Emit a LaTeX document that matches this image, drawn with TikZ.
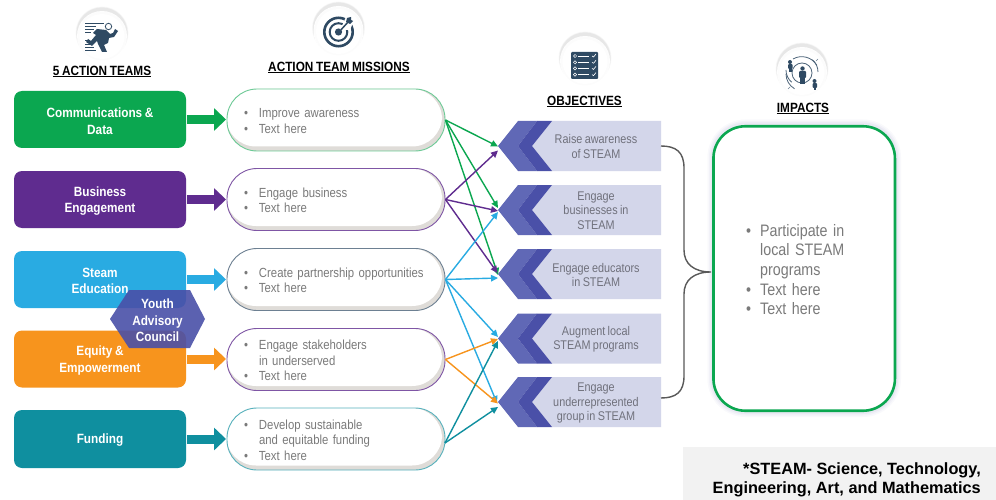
\documentclass[tikz,border=0pt]{standalone}
\usepackage{fontspec}
\setmainfont{Liberation Sans}
\newfontfamily\narrowfont[FakeStretch=0.86,WordSpace=0.8]{Liberation Sans}
\newfontfamily\headfont[FakeStretch=0.88,WordSpace=0.8,BoldFont={Liberation Sans Bold}]{Liberation Sans}
\usetikzlibrary{arrows.meta,calc}
\definecolor{cgreen}{HTML}{0BA750}
\definecolor{cpurple}{HTML}{5F2C8F}
\definecolor{cblue}{HTML}{29ABE2}
\definecolor{corange}{HTML}{F7941D}
\definecolor{cteal}{HTML}{0F8F9F}
\definecolor{ink}{HTML}{2F4A63}
\definecolor{grayt}{HTML}{7A7A7A}
\definecolor{objt}{HTML}{70717C}
\definecolor{objbg}{HTML}{D3D6EA}
\definecolor{chevlight}{HTML}{6068B6}
\definecolor{chevdark}{HTML}{4A50A8}
\definecolor{pillshade}{HTML}{DFDCD8}
\tikzset{
  teambox/.style={rounded corners=8pt,minimum width=172pt,inner sep=0pt,text=white,align=center,
    font=\headfont\bfseries\fontsize{13.4}{16.5}\selectfont},
  mission/.style={draw=#1,line width=0.9pt,fill=white,rounded corners=30pt,minimum width=218pt,minimum height=62pt,
    text width=186pt,inner sep=0pt,align=left,text=grayt,font=\narrowfont\fontsize{13.2}{15.5}\selectfont,
    path picture={
      \fill[pillshade] (path picture bounding box.south west) rectangle (path picture bounding box.north east);
      \fill[white,rounded corners=30pt] ($(path picture bounding box.south west)+(-1pt,4.5pt)$) rectangle ($(path picture bounding box.north east)+(-3pt,0pt)$);
    }},
  fat/.style={line width=9pt,draw=#1,-{Triangle[length=12pt,width=22pt,fill=#1]},shorten >=0.5pt,shorten <=1pt},
  thin/.style={line width=1.4pt,draw=#1,-{Triangle[length=7pt,width=6.5pt,fill=#1]}},
  objtext/.style={text=objt,align=center,inner sep=0pt,font=\narrowfont\fontsize{12.6}{14.3}\selectfont},
  heading/.style={text=black,inner sep=0pt,font=\headfont\bfseries\fontsize{13.4}{15}\selectfont},
  tipnode/.style={inner sep=0pt,minimum size=0pt},
}
\newcommand{\bul}[1]{\makebox[16pt][l]{\hspace{1pt}•}#1}
\newcommand{\cont}[1]{\hspace*{16pt}#1}
\newcommand{\dropped}[2]{\raisebox{-#1}[\height][\depth]{#2}}
\newcommand{\teamtext}[1]{\dropped{1.5pt}{\parbox{172pt}{\centering #1}}}
\newcommand{\misstext}[1]{\dropped{1pt}{\parbox{186pt}{\raggedright #1}}}
\newcommand{\objband}[2]{%
  \fill[objbg] (552,#1) -- (661,#1) -- (661,#1+50) -- (552,#1+50) -- (532,#1+25) -- cycle;
  \fill[chevlight] (498,#1+25) -- (518,#1) -- (537,#1) -- (518,#1+25) -- (537,#1+50) -- (518,#1+50) -- cycle;
  \fill[chevdark] (537,#1) -- (552,#1) -- (532,#1+25) -- (552,#1+50) -- (537,#1+50) -- (518,#1+25) -- cycle;
  \node[tipnode] (tip#2) at (498,#1+25) {};
}
\newcommand{\iconback}[2]{%
  \foreach \r/\o in {26.5/0.025,26/0.03,25.5/0.04}{\fill[black,opacity=\o] (#1,#2-2) circle (\r);}
  \fill[white] (#1,#2+1) circle (25);
  \fill[black,opacity=0.012] (#1,#2+1) circle (24.5);
  \fill[white] (#1,#2+1.5) circle (22.5);
}
\begin{document}
\begin{tikzpicture}[x=1pt,y=-1pt]
\useasboundingbox (0,0) rectangle (996,500);
\fill[white] (0,0) rectangle (996,500);

% ---- icons
\iconback{102}{35}
\iconback{338.5}{30}
\iconback{585}{60}
\iconback{802}{71}
% runner
\begin{scope}
 \draw[ink,line width=1pt] (85,24)--(104,24) (85,27)--(96,27) (85,30)--(94,30) (85,33)--(91,33) (85,41)--(90,41) (85,45)--(92,45) (85,48)--(94,48) (85,51)--(96,51);
 \draw[ink,line width=0.8pt] (108.5,26.5) circle (3.2);
 \fill[ink] (97,29) -- (106,30) -- (110,34) -- (113,33) -- (115,29) -- (118,31) -- (114,37) -- (109,38) -- (108,43) -- (104,45) -- (107,52) -- (102,52) -- (98,44) -- (97,41) -- (92,46) -- (86,42) -- (88,39) -- (91,41) -- (96,35) -- (93,33) -- cycle;
\end{scope}
% target
\begin{scope}
 \draw[ink,line width=2.6pt] (338.5,32) circle (14.2);
 \draw[ink,line width=2pt] (338.5,32) circle (8.8);
 \fill[ink] (338.5,32) circle (3.6);
 \fill[white] (340,30) -- (346,17) -- (354,20) -- (350,30) -- cycle;
 \draw[ink,line width=1.5pt] (339,32) -- (349,21);
 \fill[ink] (346,22) -- (347,18) -- (351,17) -- (351,20) -- (353,21) -- (350,24) -- cycle;
\end{scope}
% checklist
\begin{scope}
 \fill[ink,rounded corners=1pt] (571,52) rectangle (598,79);
 \foreach \yy in {56,62.3,68.4,74.6}{
   \draw[white,line width=0.5pt] (575,\yy) circle (1.6);
   \draw[white,line width=0.6pt] (578,\yy) -- (589,\yy);
   \draw[white,line width=0.6pt] (592,\yy) -- (593.5,\yy+1) -- (596,\yy-2);
 }
\end{scope}
% impacts
\begin{scope}
 \draw[ink!85,line width=0.8pt] (802,73) circle (10);
 \draw[ink!85,line width=0.8pt] (793,59) arc[start angle=-120,end angle=-30,radius=17.5] ;
 \draw[ink!85,line width=0.8pt] (786,70) arc[start angle=180,end angle=130,radius=16];
 \draw[ink!85,line width=0.8pt] (786,74) arc[start angle=-180,end angle=-240,radius=17] ;
 \draw[ink!85,line width=0.8pt] (818,72) arc[start angle=0,end angle=-50,radius=16];
 \fill[ink] (802.5,68.5) circle (2.2);
 \fill[ink,rounded corners=1pt] (799,71) rectangle (806,78);
 \fill[ink] (800,78) rectangle (805,84);
 \fill[ink] (790,62) circle (2);
 \fill[ink,rounded corners=1pt] (788,64) rectangle (792.5,69);
 \fill[ink] (789,69) rectangle (791.5,72);
 \fill[ink] (814.5,81) circle (2);
 \fill[ink,rounded corners=1pt] (812.5,83) rectangle (817,88);
 \fill[ink] (813.5,88) rectangle (816,90);
 \draw[ink!70,line width=0.6pt] (816,61) -- (818,59) (788,89) -- (790,87);
\end{scope}

% ---- headings
\node[heading] (h1) at (102,71.5) {\underline{5 ACTION TEAMS}};
\node[heading] (h2) at (339,67.5) {\underline{ACTION TEAM MISSIONS}};
\node[heading] (h3) at (584.5,101.5) {\underline{OBJECTIVES}};
\node[heading] (h4) at (803,108.5) {\underline{IMPACTS}};

% ---- teams
\node[teambox,fill=cgreen,minimum height=57pt] (t1) at (100,119.5) {\teamtext{Communications \&\\Data}};
\node[teambox,fill=cpurple,minimum height=57pt] (t2) at (100,199.5) {\teamtext{Business\\Engagement}};
\node[teambox,fill=cblue,minimum height=57pt] (t3) at (100,279.5) {\teamtext{Steam\\Education}};
\node[teambox,fill=corange,minimum height=57pt] (t4) at (100,359) {\teamtext{Equity \&\\Empowerment}};
\node[teambox,fill=cteal,minimum height=58pt] (t5) at (100,439) {\teamtext{Funding}};

% ---- missions
\node[mission=cgreen!60] (m1) at (336,120) {\misstext{\bul{Improve awareness}\\\bul{Text here}}};
\node[mission=cpurple!80] (m2) at (336,199.5) {\misstext{\bul{Engage business}\\\bul{Text here}}};
\node[mission=ink!70] (m3) at (336,279.5) {\misstext{\bul{Create partnership opportunities}\\\bul{Text here}}};
\node[mission=cpurple!80] (m4) at (336,359.5) {\misstext{\bul{Engage stakeholders}\\\cont{in underserved}\\\bul{Text here}}};
\node[mission=cteal!70] (m5) at (336,439) {\misstext{\bul{Develop sustainable}\\\cont{and equitable funding}\\\bul{Text here}}};

% ---- fat arrows
\foreach \i/\c in {1/cgreen,2/cpurple,3/cblue,4/corange,5/cteal}{
  \draw[fat=\c] (t\i.east) -- (t\i.east -| m\i.west);
}

% ---- hexagon
\fill[chevdark,opacity=0.9] (110,319) -- (129,290) -- (190,290) -- (205,319) -- (190,348) -- (129,348) -- cycle;
\node[text=white,align=center,inner sep=0pt,font=\headfont\bfseries\fontsize{13.4}{16.7}\selectfont] (hex) at (157.5,320.5) {Youth\\Advisory\\Council};

% ---- objectives
\objband{121}{1}
\objband{185}{2}
\objband{249}{3}
\objband{313.5}{4}
\objband{377}{5}
\node[objtext] (o1) at (596,146.5) {Raise awareness\\of STEAM};
\node[objtext] (o2) at (596,210.5) {Engage\\businesses in\\STEAM};
\node[objtext] (o3) at (596,275) {Engage educators\\in STEAM};
\node[objtext] (o4) at (596,339) {Augment local\\STEAM programs};
\node[objtext] (o5) at (596,403) {Engage\\underrepresented\\group in STEAM};

% ---- connector end points
\coordinate (e1g) at (498,146.5);
\coordinate (e1p) at (498,150.5);
\coordinate (e2g) at (498,208);
\coordinate (e2p) at (498,211);
\coordinate (e2b) at (498,212);
\coordinate (e3g) at (498,275);
\coordinate (e3p) at (497.5,273);
\coordinate (e3b) at (498,278);
\coordinate (e4b) at (498,337);
\coordinate (e4o) at (498,339);
\coordinate (e4t) at (498,341);
\coordinate (e5b) at (497,403);
\coordinate (e5o) at (498,403.5);
\coordinate (e5t) at (498,407);
\coordinate (s5) at (445,443);
\coordinate (b1) at (661,146);

\foreach \e in {e1g,e2g,e3g}{\draw[thin=cgreen] (m1.east) -- (\e);}
\foreach \e in {e3p,e1p,e2p}{\draw[thin=cpurple] (m2.east) -- (\e);}
\foreach \e in {e2b,e3b,e4b,e5b}{\draw[thin=cblue] (m3.east) -- (\e);}
\foreach \e in {e4o,e5o}{\draw[thin=corange] (m4.east) -- (\e);}
\foreach \e in {e4t,e5t}{\draw[thin=cteal] (s5) -- (\e);}

% ---- impact box
\foreach \w/\o in {12/0.03,9/0.04,6/0.05}{
  \draw[chevdark,opacity=\o,line width=\w pt,rounded corners=32pt] (713.5,125.5) rectangle (895,411);
}
\node[draw=cgreen,line width=2.6pt,fill=white,rounded corners=32pt,minimum width=181.5pt,minimum height=284.5pt,inner sep=0pt,
  text width=136pt,align=left,text=grayt,font=\narrowfont\fontsize{16.6}{19.6}\selectfont] (imp) at (804.2,268.5)
  {\dropped{1pt}{\parbox{136pt}{\raggedright\hspace*{10pt}\makebox[14pt][l]{•}Participate in\\\hspace*{24pt}local STEAM\\\hspace*{24pt}programs\\\hspace*{10pt}\makebox[14pt][l]{•}Text here\\\hspace*{10pt}\makebox[14pt][l]{•}Text here}}};

% ---- brace
\draw[black!65,line width=1.4pt] (b1) .. controls (676,146) and (684,152) .. (684,168)
  -- (684,250) .. controls (684,264) and (694,272) .. (711,272)
  .. controls (694,272) and (684,280) .. (684,294) -- (684,376) .. controls (684,392) and (676,398) .. (661,398);

% ---- note
\fill[black!5] (683,447) rectangle (996,500);
\node[text=black,align=right,inner sep=0pt,anchor=east,font=\bfseries\fontsize{16.3}{19}\selectfont] (note) at (981,479.5)
  {*STEAM- Science, Technology,\\Engineering, Art, and Mathematics};
\end{tikzpicture}
\end{document}
